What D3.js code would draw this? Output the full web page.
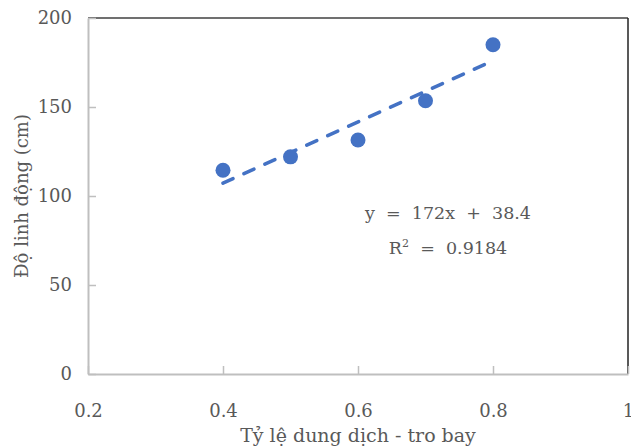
<!DOCTYPE html>
<html>
<head>
<meta charset="utf-8">
<script src="https://cdn.jsdelivr.net/npm/d3@7"></script>
<style>
  body { margin: 0; background: #fff; }
  text { font-family: "DejaVu Serif", serif; fill: #595959; }
</style>
</head>
<body>
<svg id="chart"></svg>
<script>
// data
const ratio = [0.4, 0.5, 0.6, 0.7, 0.8];
const mobility = [114.5, 122, 131.5, 153.5, 185];
const xTicks = [0.2, 0.4, 0.6, 0.8, 1];
const yTicks = [0, 50, 100, 150, 200];
const trendSlope = 172;
const trendIntercept = 38.4;
const eqLabel = "y = 172x + 38.4";
const r2Label = "0.9184";

const W = 631, H = 447;
const svg = d3.select("#chart").attr("width", W).attr("height", H);

const x = d3.scaleLinear().domain([0.2, 1]).range([88, 628]);
const y = d3.scaleLinear().domain([0, 200]).range([374, 18]);

// plot area border (dark top/right)
svg.append("line")
  .attr("x1", x(0.2)).attr("x2", x(1)).attr("y1", y(200)).attr("y2", y(200))
  .attr("stroke", "#404040").attr("stroke-width", 1.5);
svg.append("line")
  .attr("x1", x(1)).attr("x2", x(1)).attr("y1", y(200)).attr("y2", y(0))
  .attr("stroke", "#222").attr("stroke-width", 1.5);

// axes, ticks inside
const xAxis = svg.append("g")
  .attr("transform", `translate(0,${y(0)})`)
  .call(d3.axisBottom(x).tickValues(xTicks).tickSizeInner(-8).tickSizeOuter(0)
    .tickPadding(30).tickFormat(d => d === 1 ? "1" : d3.format(".1f")(d)));
const yAxis = svg.append("g")
  .attr("transform", `translate(${x(0.2)},0)`)
  .call(d3.axisLeft(y).tickValues(yTicks).tickSizeInner(-8).tickSizeOuter(0)
    .tickPadding(16));

[xAxis, yAxis].forEach(a => {
  a.select(".domain").attr("stroke", "#bfbfbf").attr("stroke-width", 2);
  a.selectAll(".tick line").attr("stroke", "#bfbfbf").attr("stroke-width", 1.5);
  a.selectAll("text").attr("font-size", 18).attr("fill", "#595959")
    .attr("font-family", "DejaVu Serif");
});

// trendline
svg.append("line")
  .attr("x1", x(0.4)).attr("y1", y(trendSlope * 0.4 + trendIntercept))
  .attr("x2", x(0.8)).attr("y2", y(trendSlope * 0.8 + trendIntercept))
  .attr("stroke", "#4472c4").attr("stroke-width", 3.5)
  .attr("stroke-dasharray", "11,12").attr("stroke-linecap", "round");

// points
svg.append("g").selectAll("circle")
  .data(ratio.map((r, i) => [r, mobility[i]]))
  .join("circle")
  .attr("cx", d => x(d[0])).attr("cy", d => y(d[1]))
  .attr("r", 7.5).attr("fill", "#4472c4");

// equation
svg.append("text").attr("x", 448).attr("y", 219).attr("text-anchor", "middle")
  .attr("font-size", 17.5).attr("xml:space", "preserve")
  .text(eqLabel.replace(/ /g, "  "));
const r2 = svg.append("text").attr("x", 448).attr("y", 254).attr("text-anchor", "middle")
  .attr("font-size", 17.5).attr("xml:space", "preserve");
r2.append("tspan").text("R");
r2.append("tspan").attr("dy", -7).attr("font-size", 11).text("2");
r2.append("tspan").attr("dy", 7).text("  =  " + r2Label);

// axis titles
svg.append("text").attr("x", x(0.6)).attr("y", 442).attr("text-anchor", "middle")
  .attr("font-size", 19).text("Tỷ lệ dung dịch - tro bay");
svg.append("text").attr("transform", `translate(28,${y(100)}) rotate(-90)`)
  .attr("text-anchor", "middle").attr("font-size", 18).text("Độ linh động (cm)");
</script>
</body>
</html>
